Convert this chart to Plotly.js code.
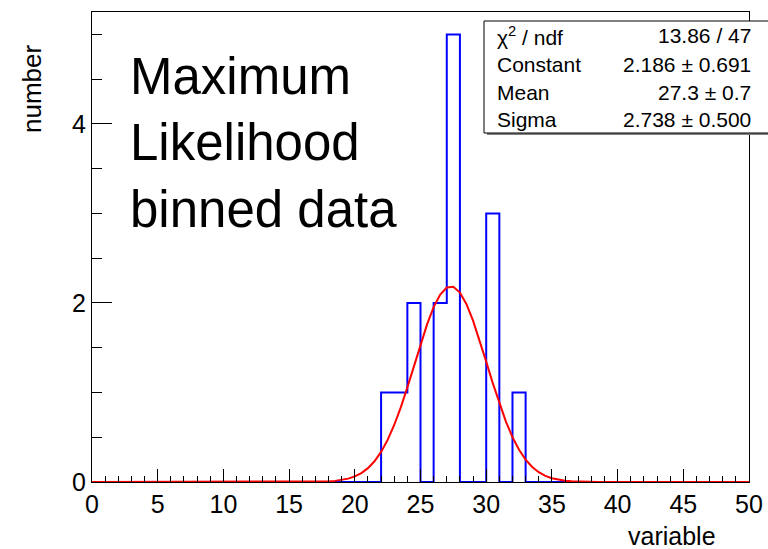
<!DOCTYPE html>
<html>
<head>
<meta charset="utf-8">
<script src="https://cdn.plot.ly/plotly-3.0.1.min.js"></script>
<style>
  html, body { margin: 0; padding: 0; background: #ffffff; }
  #chart { width: 768px; height: 549px; }
</style>
</head>
<body>
<div id="chart"></div>
<script>
// Histogram: 50 bins of width 1 on [0, 50]
const binEdges = Array.from({length: 51}, (_, i) => i);
const counts = [
  0, 0, 0, 0, 0, 0, 0, 0, 0, 0,
  0, 0, 0, 0, 0, 0, 0, 0, 0, 0,
  0, 0, 1, 1, 2, 0, 2, 5, 0, 0,
  3, 0, 1, 0, 0, 0, 0, 0, 0, 0,
  0, 0, 0, 0, 0, 0, 0, 0, 0, 0
];

// Gaussian fit result (Constant, Mean, Sigma)
const fitConstant = 2.186;
const fitMean = 27.3;
const fitSigma = 2.738;

// Stats box rows
const statLabels = ["\u03c7<sup>2</sup> / ndf", "Constant", "Mean", "Sigma"];
const statValues = ["13.86 / 47", "2.186 \u00b1 0.691", "27.3 \u00b1 0.7", "2.738 \u00b1 0.500"];

const xTickVals = [0, 5, 10, 15, 20, 25, 30, 35, 40, 45, 50];
const yTickVals = [0, 2, 4];

// Evaluate the fitted function on 100 steps across the axis range
const npx = 100;
const fitX = [], fitY = [];
for (let i = 0; i <= npx; i++) {
  const x = 50 * i / npx;
  fitX.push(x);
  fitY.push(fitConstant * Math.exp(-0.5 * Math.pow((x - fitMean) / fitSigma, 2)));
}

// Step outline: last bin value repeated so the final edge is drawn
const stepY = counts.concat([counts[counts.length - 1]]);

const W = 768, H = 549;
const M = {l: 92, r: 19, t: 12, b: 67};
const PW = W - M.l - M.r, PH = H - M.t - M.b;
const px = v => (v - M.l) / PW;
const py = v => (H - M.b - v) / PH;

const FONT = "Liberation Sans, Arial, Helvetica, sans-serif";

const traces = [
  {
    x: binEdges, y: stepY, type: "scatter", mode: "lines",
    line: {shape: "hv", color: "#0000ff", width: 2},
    hoverinfo: "skip"
  },
  {
    x: fitX, y: fitY, type: "scatter", mode: "lines",
    line: {color: "#ff0000", width: 2},
    hoverinfo: "skip"
  }
];

const annotations = [
  {
    text: "Maximum<br>Likelihood<br>binned data",
    xref: "paper", yref: "paper", x: px(129), y: py(143),
    xanchor: "left", yanchor: "middle", align: "left",
    showarrow: false, borderpad: 0,
    font: {family: FONT, size: 51, color: "#000000"}
  },
  {
    text: "variable", xref: "paper", yref: "paper",
    x: px(717), y: py(536), xanchor: "right", yanchor: "middle",
    showarrow: false, borderpad: 0,
    font: {family: FONT, size: 25, color: "#000000"}
  },
  {
    text: "number", xref: "paper", yref: "paper",
    x: px(32), y: py(89), xanchor: "center", yanchor: "middle",
    textangle: -90, showarrow: false, borderpad: 0,
    font: {family: FONT, size: 26, color: "#000000"}
  }
];

const rowY = [36, 64, 92, 119];
statLabels.forEach((lab, i) => {
  annotations.push({
    text: lab, xref: "paper", yref: "paper",
    x: px(496), y: py(rowY[i]), xanchor: "left", yanchor: "middle",
    showarrow: false, borderpad: 0,
    font: {family: FONT, size: 21, color: "#000000"}
  });
  annotations.push({
    text: statValues[i], xref: "paper", yref: "paper",
    x: px(752), y: py(rowY[i]), xanchor: "right", yanchor: "middle",
    showarrow: false, borderpad: 0,
    font: {family: FONT, size: 21, color: "#000000"}
  });
});

const shapes = [
  // shadow
  {type: "rect", xref: "paper", yref: "paper", layer: "above",
   x0: px(487), x1: px(790), y0: py(135), y1: py(24),
   fillcolor: "#808080", line: {width: 0}},
  // stats box
  {type: "rect", xref: "paper", yref: "paper", layer: "above",
   x0: px(484), x1: px(788), y0: py(133), y1: py(21),
   fillcolor: "#ffffff", line: {color: "#000000", width: 1}}
];

const layout = {
  width: W, height: H,
  margin: M,
  paper_bgcolor: "#ffffff", plot_bgcolor: "#ffffff",
  showlegend: false,
  font: {family: FONT, size: 25, color: "#000000"},
  xaxis: {
    range: [0, 50], tickvals: xTickVals, ticktext: xTickVals.map(String),
    ticks: "inside", ticklen: 13, tickwidth: 1, tickcolor: "#000000",
    minor: {dtick: 1, ticks: "inside", ticklen: 6, tickwidth: 1, tickcolor: "#000000", showgrid: false},
    showline: true, linecolor: "#000000", linewidth: 1, mirror: true,
    showgrid: false, zeroline: false,
    tickfont: {family: FONT, size: 25, color: "#000000"}
  },
  yaxis: {
    range: [0, 5.25], tickvals: yTickVals, ticktext: yTickVals.map(String),
    ticks: "inside", ticklen: 20, tickwidth: 1, tickcolor: "#000000",
    minor: {dtick: 0.5, ticks: "inside", ticklen: 10, tickwidth: 1, tickcolor: "#000000", showgrid: false},
    showline: true, linecolor: "#000000", linewidth: 1, mirror: true,
    showgrid: false, zeroline: false,
    tickfont: {family: FONT, size: 25, color: "#000000"}
  },
  annotations: annotations,
  shapes: shapes
};

Plotly.newPlot("chart", traces, layout, {staticPlot: true, displayModeBar: false});
</script>
</body>
</html>
